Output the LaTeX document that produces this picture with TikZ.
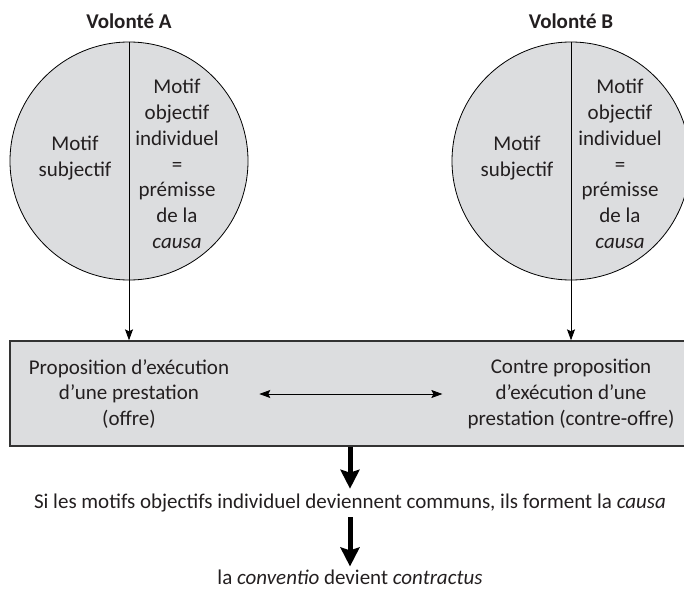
\documentclass[tikz,border=0pt]{standalone}
\usepackage{fontspec}
\setmainfont{Carlito}
\usetikzlibrary{arrows.meta,positioning}
\definecolor{discgray}{HTML}{DCDDDF}
\definecolor{inkgray}{HTML}{231F20}

\begin{document}
\begin{tikzpicture}[
  x=1pt,y=1pt,
  font=\fontsize{21}{25.8}\selectfont,
  text=inkgray,
  ttl/.style={font=\fontsize{21}{25.8}\selectfont\bfseries,inner sep=1pt},
  disc/.style={circle,draw=black,line width=0.8pt,fill=discgray,
               minimum size=238pt,inner sep=0pt},
  panel/.style={draw=black!80,line width=1.4pt,fill=discgray,
                minimum width=680pt,minimum height=105pt,inner sep=0pt},
  txt/.style={align=center,inner sep=1pt},
  ar/.style={-{Stealth[length=11pt,width=8pt,inset=2pt]},line width=0.8pt},
  dar/.style={{Stealth[length=11pt,width=8pt,inset=2pt]}-{Stealth[length=11pt,width=8pt,inset=2pt]},
              line width=0.8pt},
  big/.style={-{Stealth[length=19pt,width=19pt,inset=3pt]},line width=5pt}
]
\clip (0,0) rectangle (684,-588);

%%%%%%%%%%%%%%%%%%%%%% the two wills %%%%%%%%%%%%%%%%%%%%%%%%%%%%%%%%%%%%%%
\node[ttl]  (ttlA)  at (129,-21)  {Volonté A};
\node[disc] (volA)  at (129,-161) {};
\node[txt]  (subjA) at ( 75,-158) {Motif\\subjectif};
\node[txt]  (objA)  at (177,-164) {Motif\\objectif\\individuel\\=\\prémisse\\de la\\\emph{causa}};

\node[ttl]  (ttlB)  at (571,-21)  {Volonté B};
\node[disc] (volB)  at (571,-161) {};
\node[txt]  (subjB) at (517,-158) {Motif\\subjectif};
\node[txt]  (objB)  at (620,-164) {Motif\\objectif\\individuel\\=\\prémisse\\de la\\\emph{causa}};

%%%%%%%%%%%%%%%%%%%%%% offer and counter-offer %%%%%%%%%%%%%%%%%%%%%%%%%%%%
\node[panel] (prop)   at (350,-393.5) {};
\node[txt]   (offre)  at (129,-394) {Proposition d’exécution\\d’une prestation\\(offre)};
\node[txt]   (contre) at (571,-394) {Contre proposition\\d’exécution d’une\\prestation (contre-offre)};

\draw[ar] (volA.north) -- (volA.north |- prop.north);
\draw[ar] (volB.north) -- (volB.north |- prop.north);
\draw[dar,shorten <=29pt,shorten >=24pt] (offre) -- (contre);

%%%%%%%%%%%%%%%%%%%%%% outcome %%%%%%%%%%%%%%%%%%%%%%%%%%%%%%%%%%%%%%%%%%%%
\node[txt] (causa) at (350,-503) {Si les motifs objectifs individuel deviennent communs, ils forment la \emph{causa}};
\node[txt] (contr) at (350,-577) {la \emph{conventio} devient \emph{contractus}};

\draw[big] (prop.south) -- ([yshift=4pt]causa.north);
\draw[big] ([yshift=-4pt]causa.south) -- ([yshift=2pt]contr.north);
\end{tikzpicture}
\end{document}
